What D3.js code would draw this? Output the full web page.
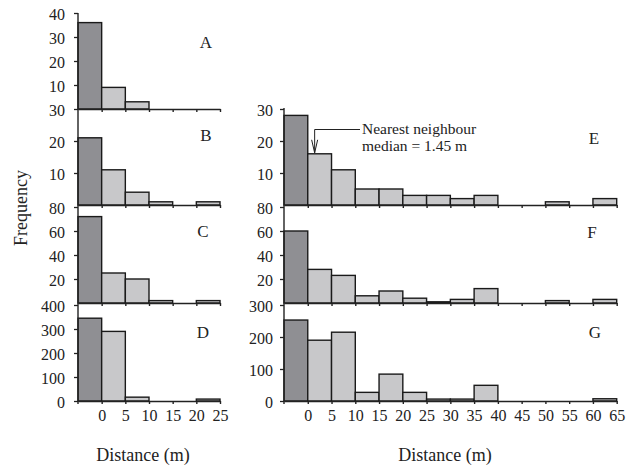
<!DOCTYPE html>
<html>
<head>
<meta charset="utf-8">
<script src="https://cdnjs.cloudflare.com/ajax/libs/d3/7.8.5/d3.min.js"></script>
<style>
body{margin:0;background:#fff;}
text{font-family:"Liberation Serif","Times New Roman",serif;fill:#222;}
</style>
</head>
<body>
<div id="chart"></div>
<script>
// bin starts (the -5 bin holds the nearest neighbour bar, drawn dark)
var binsLeft = [-5, 0, 5, 10, 15, 20];
var binsRight = [-5, 0, 5, 10, 15, 20, 25, 30, 35, 40, 45, 50, 55, 60];
var xTicksLeft = [0, 5, 10, 15, 20, 25];
var xTicksRight = [0, 5, 10, 15, 20, 25, 30, 35, 40, 45, 50, 55, 60, 65];

// frequencies per panel
var valuesA = [36, 9, 3, 0, 0, 0];
var valuesB = [21, 11, 4, 1, 0, 1];
var valuesC = [72, 25, 20, 2, 0, 2];
var valuesD = [345, 290, 16, 0, 0, 8];
var valuesE = [28, 16, 11, 5, 5, 3, 3, 2, 3, 0, 0, 1, 0, 2];
var valuesF = [60, 28, 23, 6, 10, 4, 1, 3, 12, 0, 0, 2, 0, 3];
var valuesG = [253, 190, 215, 27, 84, 27, 6, 6, 49, 0, 0, 0, 0, 7];

// y tick labels per panel
var yTicksA = [10, 20, 30, 40];
var yTicksB = [10, 20, 30];
var yTicksC = [20, 40, 60, 80];
var yTicksD = [0, 100, 200, 300, 400];
var yTicksE = [10, 20, 30];
var yTicksF = [20, 40, 60, 80];
var yTicksG = [0, 100, 200, 300];

var median = 1.45;

var W = 633, H = 466;
var svg = d3.select('#chart').append('svg').attr('width', W).attr('height', H);

var cols = {
    left:  {x0: 78,  x1: 220,   bins: binsLeft,  ticks: xTicksLeft,  pad: 9, top: 13},
    right: {x0: 284, x1: 616.7, bins: binsRight, ticks: xTicksRight, pad: 7, top: 108}
};
cols.left.x = d3.scaleLinear().domain([-5, 25]).range([cols.left.x0, cols.left.x1]);
cols.right.x = d3.scaleLinear().domain([-5, 65]).range([cols.right.x0, cols.right.x1]);

// one entry per panel: baseline / top pixel and letter position
var panels = [
    {name: 'A', col: 'left',  vals: valuesA, max: 40,  ticks: yTicksA, base: 109, top: 13,  lx: 206, ly: 42,  last: false},
    {name: 'B', col: 'left',  vals: valuesB, max: 30,  ticks: yTicksB, base: 205, top: 109, lx: 206, ly: 135, last: false},
    {name: 'C', col: 'left',  vals: valuesC, max: 80,  ticks: yTicksC, base: 303, top: 207, lx: 203, ly: 231, last: false},
    {name: 'D', col: 'left',  vals: valuesD, max: 400, ticks: yTicksD, base: 401, top: 305, lx: 203, ly: 332, last: true},
    {name: 'E', col: 'right', vals: valuesE, max: 30,  ticks: yTicksE, base: 205, top: 109, lx: 594, ly: 138, last: false},
    {name: 'F', col: 'right', vals: valuesF, max: 80,  ticks: yTicksF, base: 303, top: 207, lx: 592, ly: 232, last: false},
    {name: 'G', col: 'right', vals: valuesG, max: 300, ticks: yTicksG, base: 401, top: 305, lx: 595, ly: 332, last: true}
];

panels.forEach(function(p){
    var c = cols[p.col];
    var x = c.x;
    var y = d3.scaleLinear().domain([0, p.max]).range([p.base, p.top]);
    p.y = y;
    var g = svg.append('g');

    // bars (empty bins are left to the baseline)
    var rows = p.vals.map(function(v, i){ return {start: c.bins[i], v: v, i: i}; })
        .filter(function(d){ return d.v > 0; });
    g.selectAll('rect').data(rows).enter().append('rect')
        .attr('x', function(d){ return x(d.start); })
        .attr('y', function(d){ return y(d.v); })
        .attr('width', function(d){ return x(d.start + 5) - x(d.start); })
        .attr('height', function(d){ return p.base - y(d.v); })
        .attr('fill', function(d){ return d.i === 0 ? '#8f8f93' : '#c8c8ca'; })
        .attr('stroke', '#1a1a1a')
        .attr('stroke-width', 1.4);

    // x axis along the baseline, labels only on the bottom row
    var xa = d3.axisBottom(x).tickValues(c.ticks).tickSize(3).tickSizeOuter(0).tickPadding(6);
    var gx = g.append('g').attr('transform', 'translate(0,' + p.base + ')').call(xa);
    gx.selectAll('path,line').attr('stroke', '#222').attr('stroke-width', 1.4);
    gx.selectAll('text').style('font-size', '16px').style('font-family', '"Liberation Serif",serif').attr('fill', '#222');
    if(!p.last) gx.selectAll('text').remove();

    // y axis ticks
    var ya = d3.axisLeft(y).tickValues(p.ticks).tickSize(4).tickPadding(c.pad);
    var gy = g.append('g').attr('transform', 'translate(' + c.x0 + ',0)').call(ya);
    gy.select('.domain').remove();
    gy.selectAll('line').attr('stroke', '#222').attr('stroke-width', 1.3);
    gy.selectAll('text').style('font-size', '16px').style('font-family', '"Liberation Serif",serif')
        .attr('fill', '#222').attr('dy', '0.42em');

    // panel letter
    g.append('text').attr('x', p.lx).attr('y', p.ly).attr('text-anchor', 'middle')
        .attr('dominant-baseline', 'central').style('font-size', '17px').text(p.name);
});

// continuous vertical axis line for each column
['left', 'right'].forEach(function(k){
    var c = cols[k];
    svg.append('line').attr('x1', c.x0).attr('x2', c.x0).attr('y1', c.top).attr('y2', 404)
        .attr('stroke', '#222').attr('stroke-width', 1.4);
});

// nearest neighbour annotation on panel E
var xm = cols.right.x(median);
var ym = panels[4].y(valuesE[1]) - 1;
svg.append('path').attr('d', 'M360,129.5H' + xm + 'V' + ym)
    .attr('fill', 'none').attr('stroke', '#222').attr('stroke-width', 1);
svg.append('path').attr('d', 'M' + (xm - 3) + ',' + (ym - 13) + 'L' + xm + ',' + ym + 'L' + (xm + 3) + ',' + (ym - 13))
    .attr('fill', 'none').attr('stroke', '#222').attr('stroke-width', 1);
svg.append('text').attr('x', 362).attr('y', 134).style('font-size', '15.5px').text('Nearest neighbour');
svg.append('text').attr('x', 362).attr('y', 151).style('font-size', '15.5px').text('median = ' + median + ' m');

// axis titles
svg.append('text').attr('x', 143).attr('y', 461).attr('text-anchor', 'middle').style('font-size', '18px').text('Distance (m)');
svg.append('text').attr('x', 445).attr('y', 461).attr('text-anchor', 'middle').style('font-size', '18px').text('Distance (m)');
svg.append('text').attr('transform', 'translate(27,208) rotate(-90)').attr('text-anchor', 'middle')
    .style('font-size', '18px').text('Frequency');
</script>
</body>
</html>
